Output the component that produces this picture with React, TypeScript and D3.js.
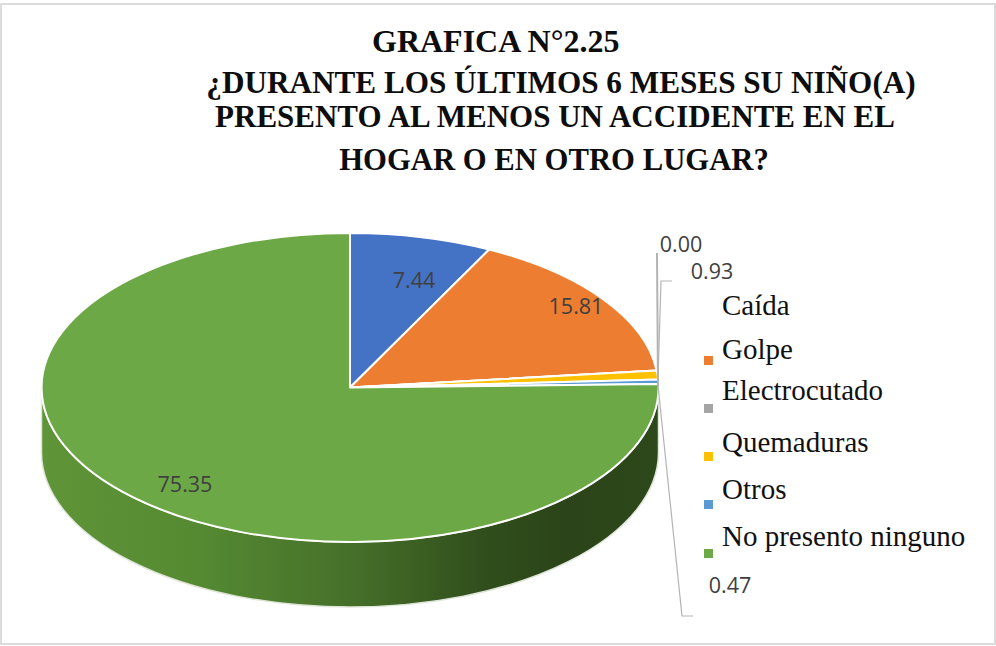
import React from "react";
import * as d3 from "d3";

const categories = ["Caída", "Golpe", "Electrocutado", "Quemaduras", "Otros", "No presento ninguno"];
const values = [7.44, 15.81, 0.0, 0.93, 0.47, 75.35];
const colors = ["#4472c4", "#ed7d31", "#a5a5a5", "#ffc000", "#5b9bd5", "#6da846"];
const titleLines = [
  "GRAFICA N°2.25",
  "¿DURANTE LOS ÚLTIMOS 6 MESES SU NIÑO(A)",
  "PRESENTO AL MENOS UN ACCIDENTE EN EL",
  "HOGAR O EN OTRO LUGAR?",
];
const sideStops = [
  [0, "#5f9438"],
  [0.25, "#558a32"],
  [0.5, "#46702a"],
  [0.72, "#304e1c"],
  [0.85, "#2b4419"],
  [1, "#2d481a"],
];

const W = 996, H = 646;
const cx = 350, cy = 387.5, rx = 308.5, ry = 154.5, depth = 65;
const serif = "'Liberation Serif', serif";
const sans = "'Open Sans', sans-serif";
const labelColor = "#404040";

const labelPos: Record<number, [number, number]> = {
  0: [414, 288],
  1: [576, 314],
  2: [681, 252],
  3: [712, 279],
  4: [730, 593],
  5: [185, 492],
};
const legendY = [315, 359, 400, 452, 499, 546];
const swatchY = [null, 356, 404, 452, 500, 549];

export default function App() {
  const pie = d3.pie<number>().sort(null).value((d) => d);
  const arcs = pie(values);
  const arc = d3.arc<d3.PieArcDatum<number>>().innerRadius(0).outerRadius(1);
  // lower half of the extruded rim
  const side = `M${cx - rx},${cy} A${rx},${ry} 0 0 0 ${cx + rx},${cy} L${cx + rx},${cy + depth} A${rx},${ry} 0 0 1 ${cx - rx},${cy + depth} Z`;
  return (
    <svg
      width={W}
      height={H}
      viewBox={`0 0 ${W} ${H}`}
      style={{ position: "fixed", left: 0, top: 0, background: "#fff" }}
    >
      <defs>
        <linearGradient id="rim" x1="0" x2="1" y1="0" y2="0">
          {sideStops.map(([o, c]) => (
            <stop key={String(o)} offset={o as number} stopColor={c as string} />
          ))}
        </linearGradient>
      </defs>
      <rect x={1} y={4} width={994} height={640} fill="#fff" stroke="#dcdcdc" strokeWidth={2} />
      <text fontFamily={serif} fontWeight="bold" fill="#0d0d0d">
        <tspan x={372} y={52} fontSize={32}>{titleLines[0]}</tspan>
        <tspan x={561} y={93} fontSize={31.2} textAnchor="middle">{titleLines[1]}</tspan>
        <tspan x={555} y={127} fontSize={31} textAnchor="middle">{titleLines[2]}</tspan>
        <tspan x={554} y={170} fontSize={30.7} textAnchor="middle">{titleLines[3]}</tspan>
      </text>
      <path d={side} fill="url(#rim)" stroke="#dfe6d8" strokeWidth={1.5} />
      <g transform={`translate(${cx},${cy}) scale(${rx},${ry})`}>
        {arcs.map((a, i) => (
          <path
            key={i}
            d={arc(a) ?? ""}
            fill={colors[i]}
            stroke="#fff"
            strokeWidth={2}
            vectorEffect="non-scaling-stroke"
            strokeLinejoin="round"
          />
        ))}
      </g>
      <g fill="none" stroke="#b3b3b3">
        <path d={`M657,253 L658,${cy}`} strokeWidth={2} />
        <path d={`M672,281 H661 L658,${cy - 8}`} strokeWidth={1.2} />
        <path d={`M693,616 H682 L658,${cy - 2}`} strokeWidth={1.2} />
      </g>
      <g fontFamily={sans} fontSize={21.5} fill={labelColor} textAnchor="middle">
        {values.map((v, i) => (
          <text key={i} x={labelPos[i][0]} y={labelPos[i][1]}>{v.toFixed(2)}</text>
        ))}
      </g>
      <g fontFamily={serif} fontSize={29} fill="#111">
        {categories.map((c, i) => (
          <text key={c} x={722} y={legendY[i]}>{c}</text>
        ))}
      </g>
      {categories.map((c, i) =>
        swatchY[i] == null ? null : (
          <rect key={c} x={704} y={swatchY[i] as number} width={9} height={9} fill={colors[i]} />
        )
      )}
    </svg>
  );
}
